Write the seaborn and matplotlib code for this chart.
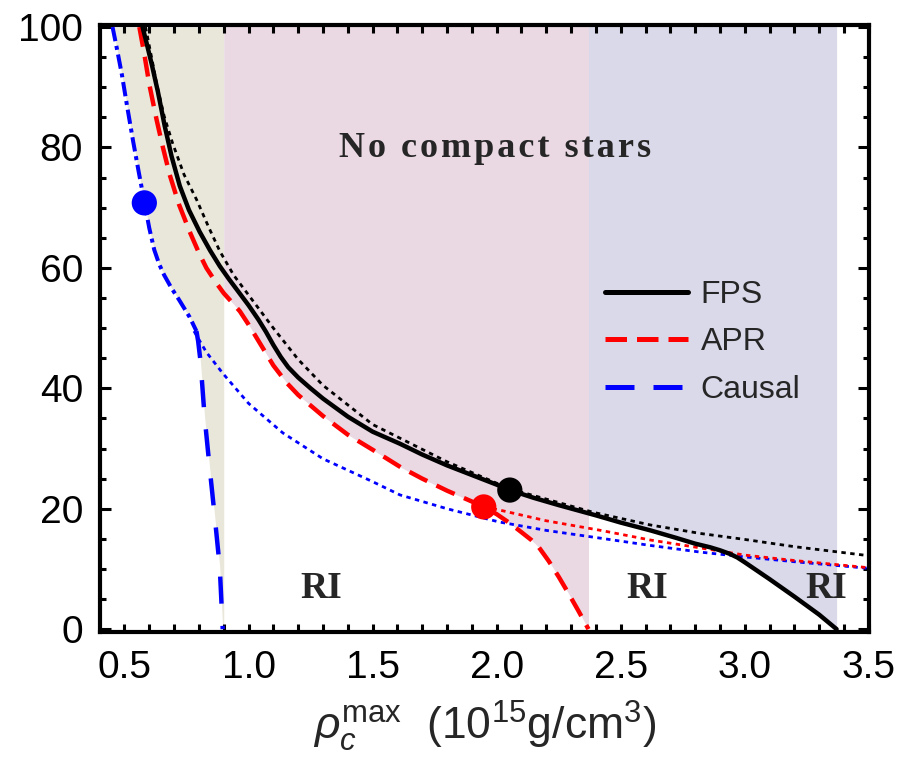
import numpy as np
import matplotlib
matplotlib.use("Agg")
import matplotlib.pyplot as plt
import seaborn as sns
from matplotlib.lines import Line2D

# ---------------- data ----------------
fps_x = [0.573, 0.59, 0.61, 0.635, 0.662, 0.69, 0.723, 0.76, 0.803, 0.845, 0.884, 0.92,
         0.96, 1.00, 1.04, 1.07, 1.10, 1.13, 1.16, 1.20, 1.25, 1.30, 1.40, 1.50,
         1.61, 1.70, 1.80, 1.90, 2.00, 2.053, 2.15, 2.25, 2.40, 2.50, 2.62, 2.72,
         2.80, 2.86, 2.90, 2.94, 2.97, 3.00, 3.05, 3.10, 3.20, 3.30, 3.37]
fps_y = [100, 97.2, 93.8, 89.2, 83.6, 78.5, 73.6, 69.6, 66.0, 62.9, 60.3, 58.2,
         56.0, 53.8, 51.4, 49.4, 47.2, 45.2, 43.5, 41.8, 40.0, 38.3, 35.3, 32.8,
         30.8, 29.0, 27.2, 25.6, 24.0, 23.1, 21.8, 20.6, 18.9, 17.7, 16.4, 15.2,
         14.2, 13.6, 13.1, 12.5, 11.9, 11.1, 9.7, 8.3, 5.4, 2.4, 0]

apr_x = [0.56, 0.58, 0.60, 0.63, 0.655, 0.682, 0.72, 0.763, 0.80, 0.83, 0.87, 0.90,
         0.935, 0.965, 1.00, 1.05, 1.10, 1.154, 1.20, 1.30, 1.40, 1.50, 1.613, 1.70,
         1.80, 1.90, 1.948, 2.00, 2.053, 2.10, 2.14, 2.17, 2.21, 2.25, 2.29, 2.33, 2.37]
apr_y = [100, 95.5, 90.5, 84.5, 80.0, 75.5, 70.5, 66.0, 62.5, 60.0, 57.5, 55.8,
         54.2, 52.8, 50.6, 47.2, 43.8, 40.9, 38.9, 35.4, 32.3, 29.8, 26.9, 25.0,
         23.0, 21.2, 20.3, 19.1, 17.6, 16.1, 14.8, 13.6, 11.3, 8.7, 5.9, 3.0, 0]

causal_up_x = [0.452, 0.47, 0.49, 0.51, 0.535, 0.558, 0.58, 0.60, 0.62, 0.64, 0.66,
               0.69, 0.72, 0.763, 0.79]
causal_up_y = [100, 96.3, 92.0, 87.0, 81.0, 75.8, 71.0, 66.6, 63.0, 60.6, 58.8,
               56.6, 54.7, 51.8, 49.5]
causal_x = [0.79, 0.797, 0.805, 0.813, 0.823, 0.843, 0.864, 0.884, 0.896]
causal_y = [49.5, 47.8, 45.0, 40.8, 35.2, 26.9, 18.6, 10.3, 0]

blue_dot_x = [0.78, 0.83, 0.896, 1.0, 1.138, 1.3, 1.5, 1.61, 1.8, 2.01, 2.2, 2.42,
              2.62, 2.82, 3.0, 3.2, 3.5]
blue_dot_y = [49.5, 46, 42.5, 37.5, 32.6, 28.3, 24.5, 22.3, 20.0, 17.8, 16.4, 15.1,
              13.9, 12.8, 12.0, 11.2, 10.1]

red_dot_x = [1.948, 2.01, 2.2, 2.42, 2.62, 2.82, 3.0, 3.2, 3.5]
red_dot_y = [20.3, 19.8, 18.0, 16.4, 14.8, 13.5, 12.3, 11.4, 10.2]

black_dot_x = [0.585, 0.61, 0.63, 0.66, 0.694, 0.74, 0.791, 0.84, 0.884, 0.94, 1.0,
               1.1, 1.2, 1.3, 1.5, 1.8, 2.053, 2.39, 2.62, 2.82, 3.0, 3.2, 3.5]
black_dot_y = [100, 94.8, 90.5, 85.2, 80.7, 75.5, 71.3, 66.7, 62.8, 58.8, 55.5,
               50.0, 44.8, 40.5, 34, 27.8, 23.3, 19.4, 17.3, 15.9, 14.9, 13.7, 12.2]

marker_x = [0.58, 2.053, 1.948]
marker_y = [70.8, 23.1, 20.3]
marker_c = ["#0000ff", "#000000", "#ff0000"]

beige_edge = 0.9
pink_range = (0.9, 2.37)
lav_range = (2.37, 3.37)

legend_labels = ["FPS", "APR", "Causal"]
region_labels = ["RI", "RI", "RI"]
region_x = [1.295, 2.606, 3.327]
title_text = "No compact stars"

# ---------------- style ----------------
sns.set_style("ticks")
plt.rcParams["font.family"] = ["Liberation Sans", "DejaVu Sans"]
plt.rcParams["mathtext.fontset"] = "custom"
plt.rcParams["mathtext.rm"] = "Liberation Sans"
plt.rcParams["mathtext.it"] = "Liberation Sans:italic"

fig = plt.figure(figsize=(9.06, 7.70), dpi=100)
ax = fig.add_axes([0.110, 0.179, 0.849, 0.789])

BEIGE = "#e9e6da"
PINK = "#ead8e3"
LAV = "#d9d9ea"

# regions
cx_all = np.array(causal_up_x + causal_x[1:])
cy_all = np.array(causal_up_y + causal_y[1:])
ax.fill_betweenx(cy_all, cx_all, beige_edge, color=BEIGE, lw=0, zorder=0)

ax_ = np.array(apr_x); ay_ = np.array(apr_y)
m = (ax_ > pink_range[0]) & (ax_ <= pink_range[1])
px = np.concatenate([[pink_range[0]], ax_[m]])
py = np.concatenate([[np.interp(pink_range[0], ax_, ay_)], ay_[m]])
ax.fill_between(px, py, 100.5, color=PINK, lw=0, zorder=0)

fx_ = np.array(fps_x); fy_ = np.array(fps_y)
m = (fx_ > lav_range[0]) & (fx_ <= lav_range[1])
lx = np.concatenate([[lav_range[0]], fx_[m]])
ly = np.concatenate([[np.interp(lav_range[0], fx_, fy_)], fy_[m]])
ax.fill_between(lx, ly, 100.5, color=LAV, lw=0, zorder=0)

LW = 3.2
DLW = 2.0
# dotted limit curves
sns.lineplot(x=black_dot_x, y=black_dot_y, ax=ax, color="black", lw=DLW,
             linestyle=(0, (1.6, 1.6)), sort=False, estimator=None, zorder=2)
sns.lineplot(x=blue_dot_x, y=blue_dot_y, ax=ax, color="#0000ff", lw=DLW,
             linestyle=(0, (1.6, 1.6)), sort=False, estimator=None, zorder=2)
sns.lineplot(x=red_dot_x, y=red_dot_y, ax=ax, color="#ff0000", lw=DLW,
             linestyle=(0, (1.6, 1.6)), sort=False, estimator=None, zorder=2)

# main curves
sns.lineplot(x=causal_up_x, y=causal_up_y, ax=ax, color="#0000ff", lw=LW * 0.9,
             linestyle=(0, (3.6, 1.2, 1.0, 1.2)), sort=False, estimator=None, zorder=3)
sns.lineplot(x=causal_x, y=causal_y, ax=ax, color="#0000ff", lw=LW,
             linestyle=(0, (6.1, 5.0)), sort=False, estimator=None, zorder=3)
sns.lineplot(x=apr_x, y=apr_y, ax=ax, color="#ff0000", lw=LW,
             linestyle=(0, (4.5, 2.3)), sort=False, estimator=None, zorder=3)
sns.lineplot(x=fps_x, y=fps_y, ax=ax, color="black", lw=LW,
             linestyle="-", sort=False, estimator=None, zorder=4)
for ln in ax.lines:
    ln.set_solid_joinstyle("round")
    ln.set_dash_joinstyle("round")

sns.scatterplot(x=marker_x, y=marker_y, ax=ax, hue=marker_c, palette={c: c for c in marker_c},
                s=330, linewidth=0, legend=False, zorder=5)

# texts
spaced = "\u200a".join(title_text)
ax.text(1.995, 78.4, spaced, family=["Liberation Serif", "DejaVu Serif"],
        fontsize=26, fontweight="bold", ha="center", va="baseline", zorder=6)
for lab, xx in zip(region_labels, region_x):
    ax.text(xx, 5.1, lab, family=["Liberation Serif", "DejaVu Serif"],
            fontsize=27, fontweight="bold", ha="center", va="baseline", zorder=6)

# legend
handles = [
    Line2D([], [], color="black", lw=LW + 0.4, linestyle="-"),
    Line2D([], [], color="#ff0000", lw=LW + 0.4, linestyle=(0, (4.3, 2.0))),
    Line2D([], [], color="#0000ff", lw=LW + 0.4, linestyle=(0, (5.8, 3.8))),
]
ax.legend(handles, legend_labels, loc="upper left", bbox_to_anchor=(0.657, 0.58),
          frameon=False, fontsize=23, handlelength=2.6, handletextpad=0.4,
          labelspacing=0.55, borderpad=0, borderaxespad=0)

# axes
ax.set_xlim(0.4, 3.5)
ax.set_ylim(-0.5, 100.4)
ax.set_xticks(np.arange(0.5, 3.51, 0.5))
ax.set_xticklabels(["0.5", "1.0", "1.5", "2.0", "2.5", "3.0", "3.5"])
ax.set_xticks(np.arange(0.5, 3.51, 0.1), minor=True)
ax.set_yticks(np.arange(0, 101, 20))
ax.set_yticks(np.arange(0, 101, 5), minor=True)
ax.tick_params(which="both", direction="in", top=True, right=True, width=2.2,
               labelsize=28, colors="black")
ax.tick_params(axis="x", which="both", length=6, pad=13)
ax.tick_params(axis="y", which="major", length=8, pad=12)
ax.tick_params(axis="y", which="minor", length=4.5)
for s in ax.spines.values():
    s.set_linewidth(3)
    s.set_color("black")
ax.set_xlabel(r"$\rho_c^{\rm max}$  $(10^{15}{\rm g/cm}^3)$", fontsize=32, labelpad=9)
ax.set_ylabel("")

fig.savefig("out.png", dpi=100)
